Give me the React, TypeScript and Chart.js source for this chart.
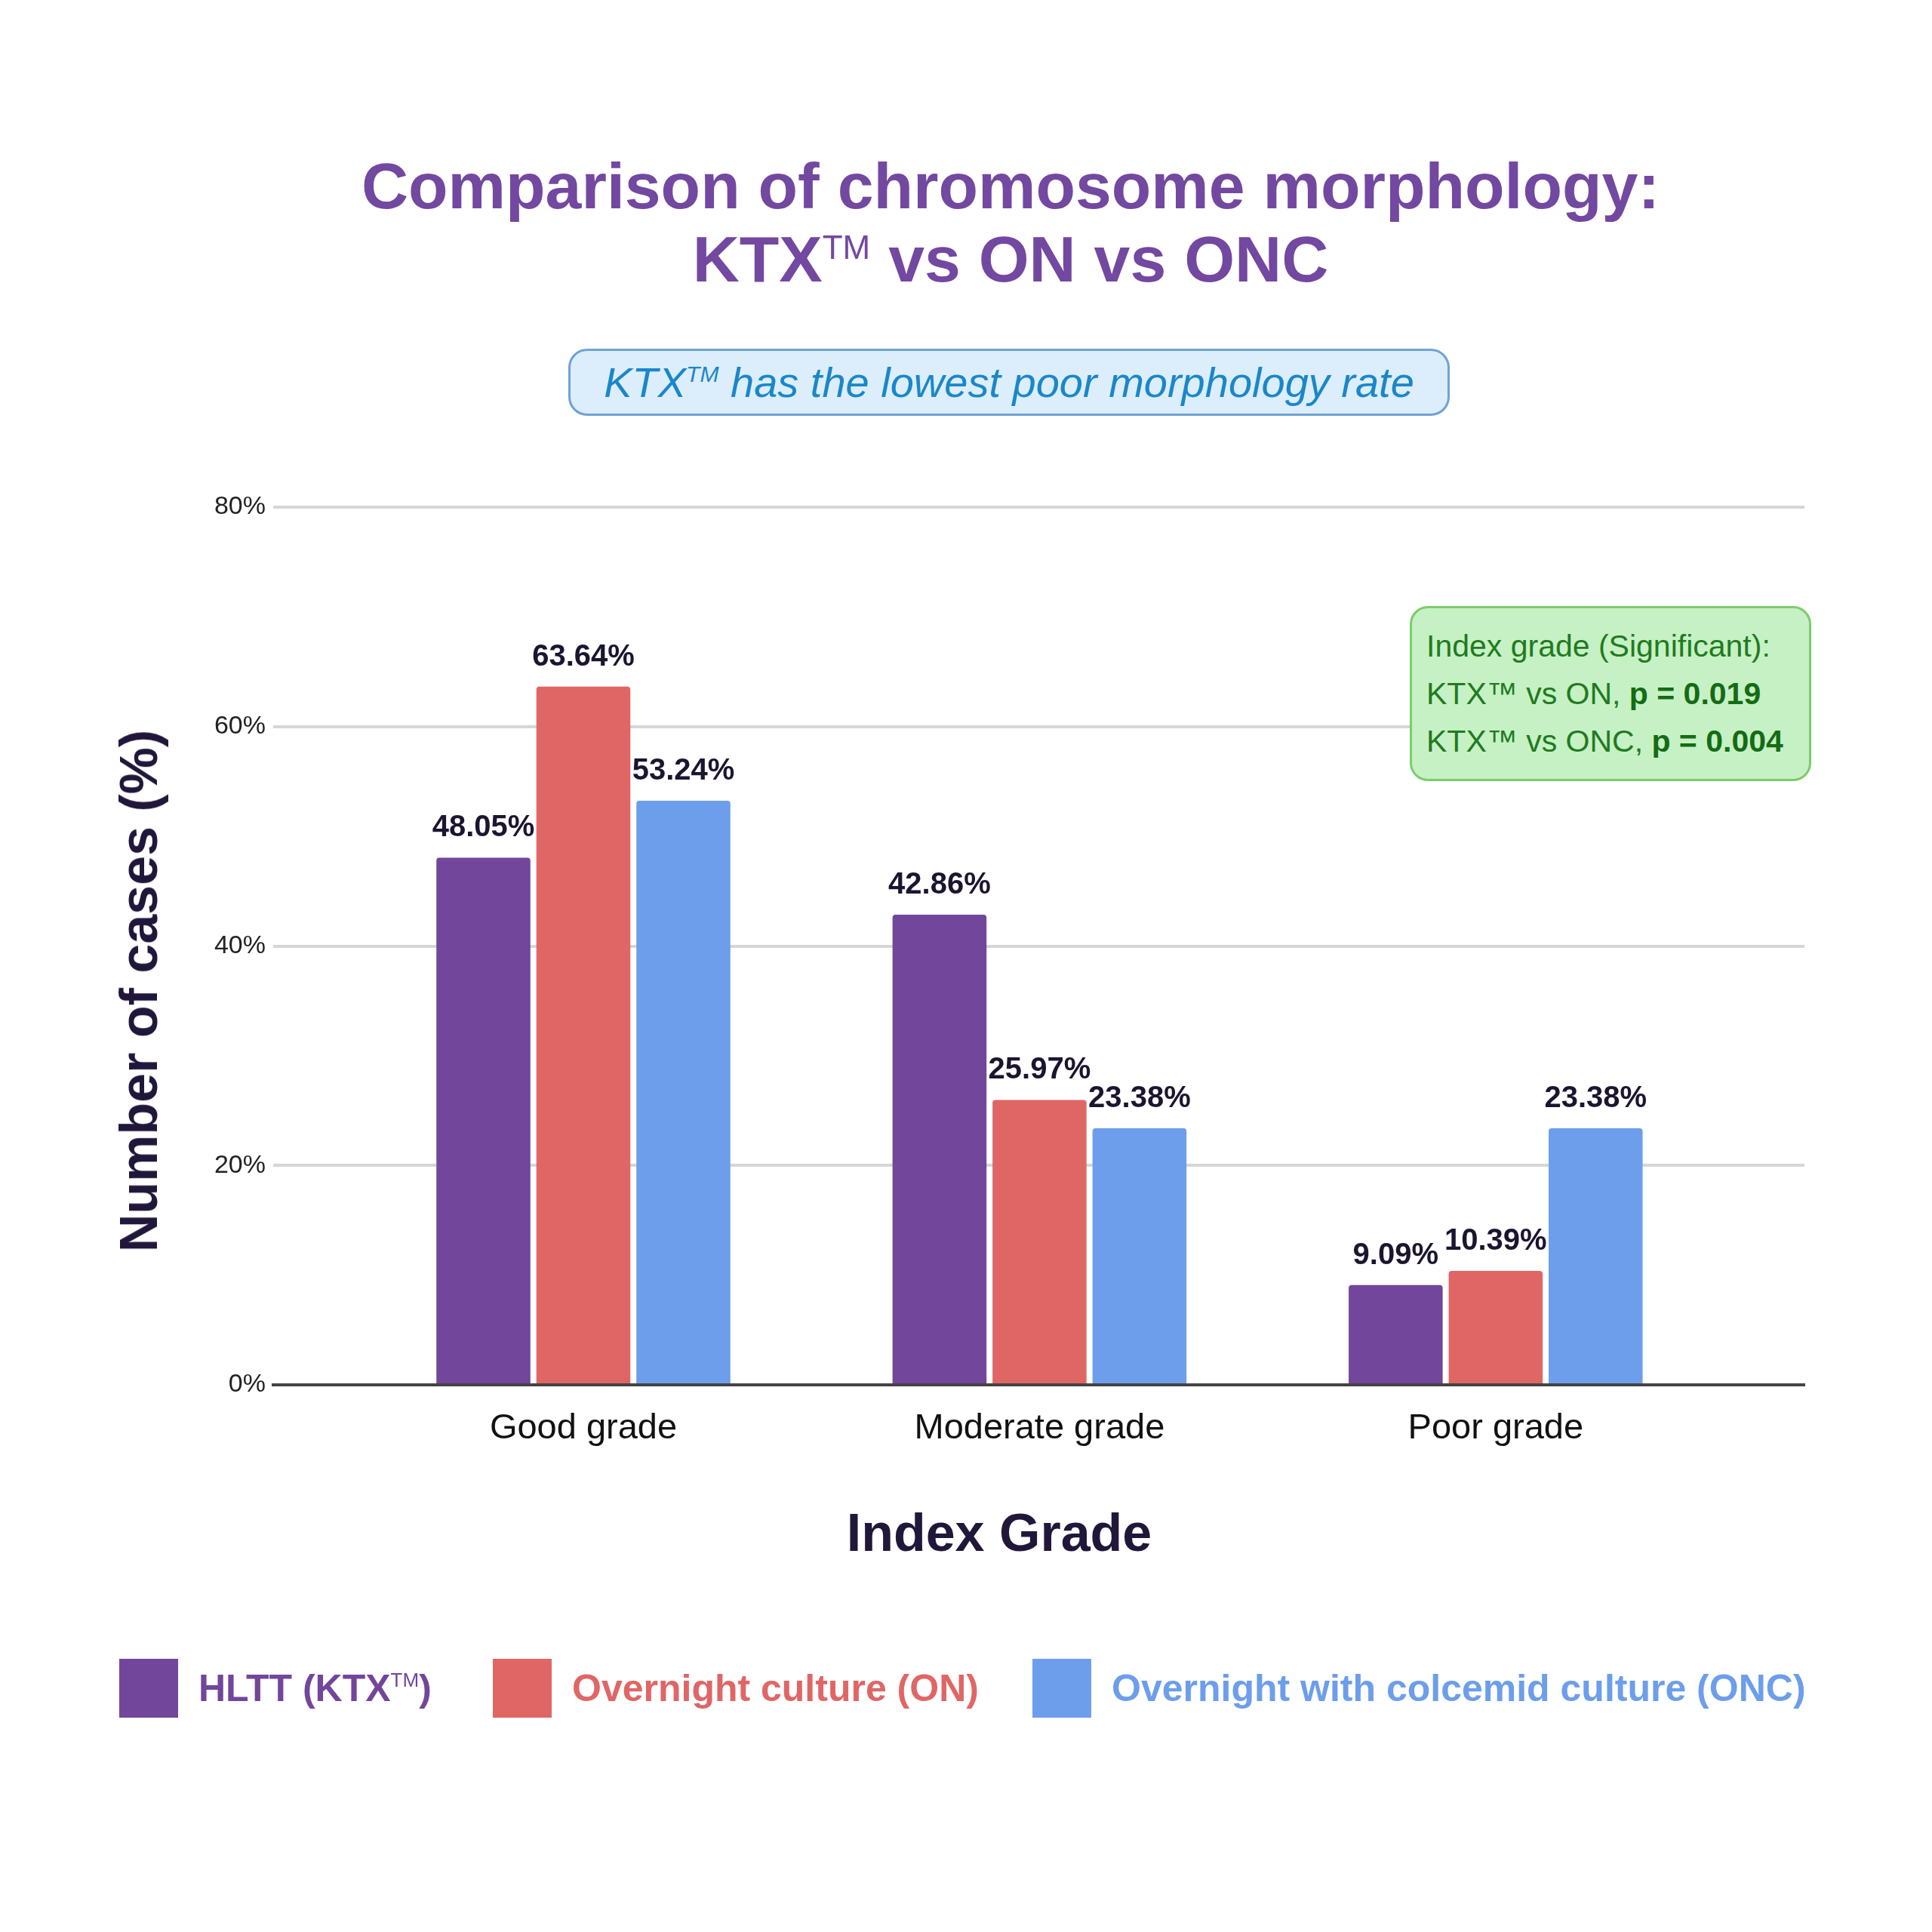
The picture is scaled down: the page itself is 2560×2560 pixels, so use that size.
import { useEffect, useRef } from 'react';
import Chart from 'chart.js/auto';

// chart data
const categories = ['Good grade', 'Moderate grade', 'Poor grade'];
const hlttValues = [48.05, 42.86, 9.09];
const onValues = [63.64, 25.97, 10.39];
const oncValues = [53.24, 23.38, 23.38];
const seriesNames = ['HLTT (KTX™)', 'Overnight culture (ON)', 'Overnight with colcemid culture (ONC)'];
const yMax = 80;
const yStep = 20;

const FONT = '"Liberation Sans", Arial, Helvetica, sans-serif';
const seriesColors = ['#72469b', '#e06666', '#6d9eeb'];
const legendLeft = [158, 653, 1368];

const valueLabels = {
  id: 'valueLabels',
  afterDatasetsDraw(chart: any) {
    const ctx = chart.ctx;
    ctx.save();
    ctx.font = `bold 40px ${FONT}`;
    ctx.fillStyle = '#1c1530';
    ctx.textAlign = 'center';
    ctx.textBaseline = 'alphabetic';
    chart.data.datasets.forEach((ds: any, i: number) => {
      chart.getDatasetMeta(i).data.forEach((bar: any, j: number) => {
        const v = ds.data[j].y;
        ctx.fillText(v.toFixed(2) + '%', bar.x, bar.y - 28);
      });
    });
    ctx.restore();
  },
};

// renders "TM" as a small raised mark
function Tm({ size, raise, italic }: { size: number; raise: number; italic?: boolean }) {
  return (
    <span
      style={{
        fontSize: size,
        fontWeight: 400,
        fontStyle: italic ? 'italic' : 'normal',
        position: 'relative',
        top: -raise,
        lineHeight: 0,
      }}
    >
      TM
    </span>
  );
}

export default function App() {
  const canvasRef = useRef<HTMLCanvasElement>(null);
  const chartRef = useRef<Chart | null>(null);

  useEffect(() => {
    if (!canvasRef.current) return;
    if (chartRef.current) chartRef.current.destroy();

    const toPoints = (vals: number[]) => vals.map((y, i) => ({ x: i, y }));
    const seriesValues = [hlttValues, onValues, oncValues];

    chartRef.current = new Chart(canvasRef.current, {
      type: 'bar',
      data: {
        datasets: seriesValues.map((vals, i) => ({
          label: seriesNames[i],
          data: toPoints(vals),
          backgroundColor: seriesColors[i],
          borderWidth: 0,
          borderRadius: { topLeft: 4, topRight: 4, bottomLeft: 0, bottomRight: 0 },
          borderSkipped: false,
          categoryPercentage: 0.6576,
          barPercentage: 0.94,
        })),
      } as any,
      options: {
        responsive: false,
        animation: false,
        devicePixelRatio: 1,
        layout: { padding: { top: 672, right: 169, bottom: 0, left: 0 } },
        plugins: {
          legend: { display: false },
          title: { display: false },
          tooltip: { enabled: false },
        },
        scales: {
          x: {
            type: 'linear',
            offset: false,
            min: -0.68,
            max: 2.677,
            afterBuildTicks: (axis: any) => {
              axis.ticks = categories.map((_, i) => ({ value: i }));
            },
            afterFit: (axis: any) => {
              axis.height = 725;
            },
            ticks: {
              callback: (v: any) => categories[v] ?? '',
              font: { family: FONT, size: 47 },
              color: '#111111',
              padding: 30,
              maxRotation: 0,
              autoSkip: false,
            },
            grid: { display: false, drawTicks: false, offset: false },
            border: { display: true, color: '#444444', width: 4 },
          },
          y: {
            min: 0,
            max: yMax,
            afterFit: (axis: any) => {
              axis.width = 362;
            },
            ticks: {
              stepSize: yStep,
              callback: (v: any) => v + '%',
              font: { family: FONT, size: 34 },
              color: '#222222',
              padding: 10,
            },
            grid: { color: '#d6d6d6', lineWidth: 4, drawTicks: false },
            border: { display: false },
          },
        },
      } as any,
      plugins: [valueLabels],
    });

    return () => {
      if (chartRef.current) {
        chartRef.current.destroy();
        chartRef.current = null;
      }
    };
  }, []);

  return (
    <div
      style={{
        position: 'absolute',
        left: 0,
        top: 0,
        width: 2560,
        height: 2560,
        background: '#ffffff',
        fontFamily: FONT,
        overflow: 'hidden',
      }}
    >
      <canvas
        ref={canvasRef}
        width={2560}
        height={2560}
        style={{ position: 'absolute', left: 0, top: 0, width: 2560, height: 2560 }}
      />

      {/* Title */}
      <div
        style={{
          position: 'absolute',
          left: 139,
          top: 198,
          width: 2400,
          textAlign: 'center',
          fontSize: 86,
          fontWeight: 700,
          lineHeight: '97px',
          color: '#7348a0',
        }}
      >
        Comparison of chromosome morphology:
        <br />
        KTX<Tm size={44} raise={30} /> vs ON vs ONC
      </div>

      {/* Subtitle box */}
      <div
        style={{
          position: 'absolute',
          left: 753,
          top: 462,
          width: 1168,
          height: 89,
          boxSizing: 'border-box',
          border: '3px solid #6ea2d6',
          borderRadius: 25,
          background: '#dcedfb',
          textAlign: 'center',
          fontSize: 56,
          fontStyle: 'italic',
          lineHeight: '83px',
          color: '#1a87c9',
          whiteSpace: 'nowrap',
        }}
      >
        KTX<Tm size={30} raise={20} italic /> has the lowest poor morphology rate
      </div>

      {/* Significance note */}
      <div
        style={{
          position: 'absolute',
          left: 1868,
          top: 803,
          width: 532,
          height: 232,
          boxSizing: 'border-box',
          border: '3px solid #7ccc6c',
          borderRadius: 24,
          background: '#c6f1c4',
          padding: '19px 0 0 19px',
          fontSize: 41,
          lineHeight: '63px',
          color: '#217a21',
          whiteSpace: 'nowrap',
        }}
      >
        <div>Index grade (Significant):</div>
        <div>
          KTX™ vs ON, <b style={{ color: '#146c14' }}>p = 0.019</b>
        </div>
        <div>
          KTX™ vs ONC, <b style={{ color: '#146c14' }}>p = 0.004</b>
        </div>
      </div>

      {/* Y axis title */}
      <div
        style={{
          position: 'absolute',
          left: 184,
          top: 1313,
          transform: 'translate(-50%, -50%) rotate(-90deg)',
          fontSize: 70,
          fontWeight: 700,
          color: '#21173a',
          whiteSpace: 'nowrap',
          lineHeight: '70px',
        }}
      >
        Number of cases (%)
      </div>

      {/* X axis title */}
      <div
        style={{
          position: 'absolute',
          left: 1324,
          top: 1996,
          transform: 'translateX(-50%)',
          fontSize: 70,
          fontWeight: 700,
          color: '#21173a',
          whiteSpace: 'nowrap',
          lineHeight: '70px',
        }}
      >
        Index Grade
      </div>

      {/* Legend */}
      {seriesNames.map((name, i) => {
        const hasTm = name.includes('™');
        const parts = name.split('™');
        return (
          <div
            key={name}
            style={{
              position: 'absolute',
              left: legendLeft[i],
              top: 2198,
              height: 78,
              display: 'flex',
              alignItems: 'center',
              whiteSpace: 'nowrap',
            }}
          >
            <div style={{ width: 78, height: 78, background: seriesColors[i], marginRight: 27 }} />
            <span style={{ fontSize: 50, fontWeight: 700, color: seriesColors[i], lineHeight: '78px' }}>
              {hasTm ? (
                <>
                  {parts[0]}
                  <Tm size={26} raise={19} />
                  {parts[1]}
                </>
              ) : (
                name
              )}
            </span>
          </div>
        );
      })}
    </div>
  );
}
